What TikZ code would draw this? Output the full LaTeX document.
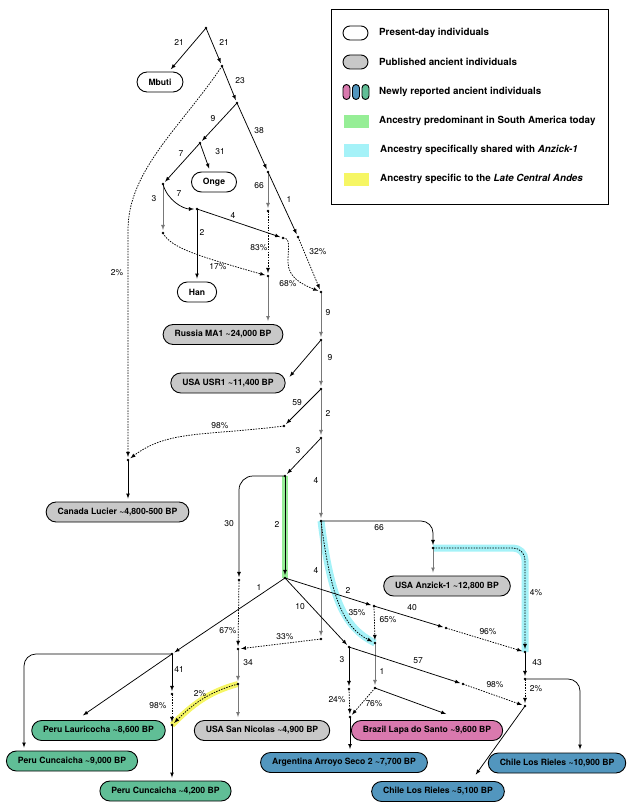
\documentclass[tikz,border=0pt]{standalone}
\usepackage{fontspec}
\setmainfont{TeX Gyre Heros}
\usetikzlibrary{calc}
\definecolor{oldgray}{RGB}{200,200,200}
\definecolor{newpink}{RGB}{217,121,174}
\definecolor{newblue}{RGB}{82,150,190}
\definecolor{newgreen}{RGB}{96,190,150}
\definecolor{hlgreen}{RGB}{150,238,150}
\definecolor{hlcyan}{RGB}{165,242,248}
\definecolor{hlyellow}{RGB}{246,246,100}
\definecolor{edgegray}{RGB}{120,120,120}

\tikzset{
  pop/.style={draw, line width=0.9pt, rounded corners=10pt, minimum height=20pt,
    inner xsep=11.5pt, inner ysep=0pt, font=\fontsize{8.6}{10}\selectfont\bfseries},
  lbl/.style={font=\fontsize{8.5}{10}\selectfont, inner sep=0pt},
  br/.style={-latex, line width=0.75pt, shorten >=3pt},
  gbr/.style={br, draw=edgegray},
  mix/.style={br, dash pattern=on 1.5pt off 1.2pt},
  hl/.style={line width=6pt, line join=round},
  keyoval/.style={draw, line width=0.9pt, rounded corners=7pt, minimum width=25pt,
    minimum height=14pt, inner sep=0pt},
  keypill/.style={keyoval, rounded corners=3.5pt, minimum width=7pt, minimum height=15pt},
  keyswatch/.style={minimum width=25pt, minimum height=13pt, inner sep=0pt},
  keytext/.style={anchor=west, inner sep=0pt, font=\fontsize{9.8}{12}\selectfont\bfseries},
}

\begin{document}
\begin{tikzpicture}[x=1pt, y=-1pt]
\useasboundingbox (0,0) rectangle (631,808);

% junctions
\foreach \n/\x/\y in {root/206/28, nA/222/66, nB/237/103, nC/200/143, nD/268/172,
  nE/163/184, nF/163/233, nG/197/209, nH/283/238, nI/268/211, nJ/298/237,
  nK/268/276, nL/321/292, nM/321/340, nN/321/389, nO/284/426, nP/321/438,
  nQ/285/476, nR/321/521, nS/128/460, nT/239/580, nU/285/578, nV/433/548,
  nW/525/652, nX/321/639, nY/375/643, nZ/172/654, nAA/374/606, nAB/349/647,
  nAC/238/649, nAD/446/628, nAE/238/684, nAF/172/725, nAG/172/694,
  nAH/375/688, nAI/350/717, nAJ/349/689, nAK/463/684, nAL/525/706, nAM/525/679}
  \coordinate (\n) at (\x,\y);

% populations
\node[pop, fill=white] (Mbuti) at (160,82) {Mbuti};
\node[pop, fill=white] (Onge) at (214,182) {Onge};
\node[pop, fill=white] (Han) at (197,292) {Han};
\node[pop, fill=oldgray] (MA1) at (223,334.5) {Russia MA1 \textasciitilde24,000 BP};
\node[pop, fill=oldgray] (USR1) at (228,383) {USA USR1 \textasciitilde11,400 BP};
\node[pop, fill=oldgray] (Canada) at (117.5,512) {Canada Lucier \textasciitilde4,800-500 BP};
\node[pop, fill=oldgray] (Anzick) at (447,586) {USA Anzick-1 \textasciitilde12,800 BP};
\node[pop, fill=oldgray] (SanNic) at (262,730.5) {USA San Nicolas \textasciitilde4,900 BP};
\node[pop, fill=newpink] (Lapa) at (427,730.5) {Brazil Lapa do Santo \textasciitilde9,600 BP};
\node[pop, fill=newgreen] (Lauri) at (98.5,730.5) {Peru Lauricocha \textasciitilde8,600 BP};
\node[pop, fill=newgreen] (Cunc9) at (72,761) {Peru Cuncaicha \textasciitilde9,000 BP};
\node[pop, fill=newgreen] (Cunc4) at (165.5,791) {Peru Cuncaicha \textasciitilde4,200 BP};
\node[pop, fill=newblue] (Arg) at (344,762.5) {Argentina Arroyo Seco 2 \textasciitilde7,700 BP};
\node[pop, fill=newblue] (Chile10) at (557,763) {Chile Los Rieles \textasciitilde10,900 BP};
\node[pop, fill=newblue] (Chile5) at (438,791.5) {Chile Los Rieles \textasciitilde5,100 BP};

% highlights
\draw[hl, hlgreen] (nQ) -- (nU);
\draw[hl, hlcyan, line width=7pt] (nR) .. controls +(10,80) and +(-30,-15) .. (nY);
\draw[hl, hlcyan, line width=7pt, rounded corners=12pt] (nV) -| (nW);
\draw[hl, hlyellow] (nAE) .. controls +(-30,8) and +(20,-20) .. (nAF);

% drift edges
\draw[br] (root) -- (Mbuti);
\draw[br] (root) -- (nA);
\draw[br] (nA) -- (nB);
\draw[br] (nB) -- (nC);
\draw[br] (nB) -- (nD);
\draw[br] (nC) -- (Onge);
\draw[br] (nC) -- (nE);
\draw[gbr] (nE) -- (nF);
\draw[br] (nE) .. controls +(4,16) and +(-14,0) .. (nG);
\draw[br] (nG) -- (Han);
\draw[br] (nG) -- (nH);
\draw[gbr] (nD) -- (nI);
\draw[br] (nD) -- (nJ);
\draw[gbr] (nK) -- (nK |- MA1.north);
\draw[gbr] (nL) -- (nM);
\draw[br] (nM) -- ([xshift=2pt,yshift=4pt]USR1.east);
\draw[gbr] (nM) -- (nN);
\draw[br] (nN) -- (nO);
\draw[gbr] (nN) -- (nP);
\draw[br] (nP) -- (nQ);
\draw[gbr] (nP) -- (nR);
\draw[br] (nS) -- (nS |- Canada.north);
\draw[br, rounded corners=14pt] (nQ) -| (nT);
\draw[br] (nQ) -- (nU);
\draw[br, rounded corners=12pt] (nR) -| (nV);
\draw[gbr] (nV) -- (nV |- Anzick.north);
\draw[gbr] (nR) -- (nX);
\draw[br] (nU) -- (nZ);
\draw[br] (nU) -- (nAA);
\draw[br] (nU) -- (nAB);
\draw[br] (nAA) -- (nAD);
\draw[gbr] (nAC) -- (nAE);
\draw[gbr] (nAE) -- (nAE |- SanNic.north);
\draw[br] (nZ) -- (nAG);
\draw[br] (nZ) -- ([xshift=-18pt,yshift=3pt]Lauri.north);
\draw[br, rounded corners=12pt] (nZ) -| ([xshift=-48pt]Cunc9.north);
\draw[br] (nAF) -- (nAF |- Cunc4.north);
\draw[gbr] (nY) -- (nAH);
\draw[br] (nAH) -- ([xshift=22pt,yshift=5pt]Lapa.north);
\draw[br] (nAB) -- (nAJ);
\draw[br] (nAB) -- (nAK);
\draw[br] (nAI) -- (nAI |- Arg.north);
\draw[br] (nW) -- (nAM);
\draw[br, rounded corners=12pt] (nAM) -| ([xshift=23pt]Chile10.north);
\draw[br] (nAL) -- ([xshift=36pt,yshift=4pt]Chile5.north);

% admixture edges
\draw[mix] (nA) .. controls +(-40,60) and +(0,-60) .. (nS |- 0,230) -- (nS);
\draw[mix] (nF) .. controls +(8,15) and +(-70,-20) .. (nK);
\draw[mix] (nI) -- (nK);
\draw[mix] (nH) .. controls +(8,0) and +(0,-15) .. ($(nH)+(5,24)$)
  .. controls +(0,15) and +(-20,-8) .. (nL);
\draw[mix] (nJ) -- (nL);
\draw[mix] (nO) .. controls +(-80,10) and +(40,-30) .. (nS);
\draw[mix] (nT) -- (nAC);
\draw[mix] (nX) -- (nAC);
\draw[mix] (nR) .. controls +(10,80) and +(-30,-15) .. (nY);
\draw[mix] (nAA) -- (nY);
\draw[mix] (nAD) -- (nW);
\draw[mix, rounded corners=12pt] (nV) -| (nW);
\draw[mix] (nAE) .. controls +(-30,8) and +(20,-20) .. (nAF);
\draw[mix] (nAG) -- (nAF);
\draw[mix] (nAH) -- (nAI);
\draw[mix] (nAJ) -- (nAI);
\draw[mix] (nAK) -- (nAL);
\draw[mix] (nAM) -- (nAL);

% dots
\foreach \n in {root, nA, nB, nC, nD, nE, nF, nG, nH, nI, nJ, nK, nL, nM, nN, nO,
  nP, nQ, nR, nS, nT, nU, nV, nW, nX, nY, nZ, nAA, nAB, nAC, nAD, nAE, nAF,
  nAG, nAH, nAI, nAJ, nAK, nAL, nAM}
  \fill (\n) circle (1.3pt);

% branch labels
\foreach \x/\y/\t [count=\i] in {179/42/21, 224/42/21, 240/81/23, 213/119/9,
  259/131/38, 220/152/31, 181/154/7, 154/199/3, 179/194/7, 202/232/2, 233/215/4,
  259/186/66, 289/199/1, 218/267/17\%, 259/248/83\%, 288/284/68\%, 318/252/32\%,
  117/273/2\%, 328/313/9, 330/358/9, 297/403/59, 328/413/2, 220/426/98\%,
  298/451/3, 316/480/4, 229/524/30, 277/524/2, 379/528/66, 536/593/4\%,
  316/570/4, 357/613/35\%, 259/587/1, 348/590/2, 300/607/10, 228/631/67\%,
  285/637/33\%, 388/620/65\%, 412/608/40, 488/632/96\%, 248/663/34, 200/694/2\%,
  179/669/41, 158/706/98\%, 382/671/1, 374/704/76\%, 342/660/3, 337/700/24\%,
  418/661/57, 495/685/98\%, 537/663/43, 536/689/2\%}
  \node[lbl] (lab\i) at (\x,\y) {\t};

% key
\draw[line width=0.8pt] (331,9) rectangle (608,204);
\node[keyoval, fill=white] (keypresent) at (355.5,33) {};
\node[keyoval, fill=oldgray] (keyold) at (355.5,62) {};
\node[keypill, fill=newpink] (keypink) at (346.5,92) {};
\node[keypill, fill=newblue] (keyblue) at (356,92) {};
\node[keypill, fill=newgreen] (keygreen) at (365.5,92) {};
\node[keyswatch, fill=hlgreen] (keysouth) at (356.5,121) {};
\node[keyswatch, fill=hlcyan] (keyanzick) at (356.5,150) {};
\node[keyswatch, fill=hlyellow] (keyandes) at (356.5,179) {};
\node[keytext] (txtpresent) at (379,33) {Present-day individuals};
\node[keytext] (txtold) at (379,62) {Published ancient individuals};
\node[keytext] (txtnew) at (379,92) {Newly reported ancient individuals};
\node[keytext] (txtsouth) at (379,121) {Ancestry predominant in South America today};
\node[keytext] (txtanzick) at (380,150) {Ancestry specifically shared with \textit{Anzick-1}};
\node[keytext] (txtandes) at (380,179) {Ancestry specific to the \textit{Late Central Andes}};
\end{tikzpicture}
\end{document}
